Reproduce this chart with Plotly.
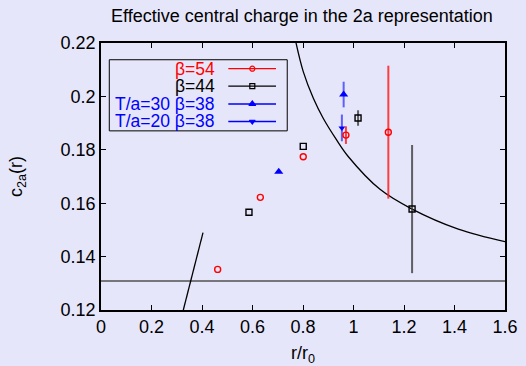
import plotly.graph_objects as go

# ---- data ----
b54_x = [0.462, 0.631, 0.801, 0.970, 1.138]
b54_y = [0.1352, 0.1622, 0.1774, 0.1855, 0.1866]
b54_e = [0.0, 0.0, 0.0, 0.0033, 0.0249]

b44_x = [0.586, 0.801, 1.018, 1.232]
b44_y = [0.1566, 0.1813, 0.1919, 0.1578]
b44_e = [0.0, 0.0, 0.0029, 0.0240]

t30_x = [0.704, 0.961]
t30_y = [0.1718, 0.2007]
t30_e = [0.0, 0.0048]

t20_x = [0.954]
t20_y = [0.1882]
t20_e = [0.0050]

curve_x = [0.772, 0.801, 0.841, 0.880, 0.933, 0.979, 1.105, 1.232, 1.415, 1.6]
curve_y = [0.2202, 0.2093, 0.1993, 0.1918, 0.1837, 0.1775, 0.1652, 0.1578, 0.1503, 0.1456]

seg_x = [0.326, 0.404]
seg_y = [0.12, 0.149]

hline_x = [0.0, 1.6]
hline_y = [0.1309, 0.1309]

x_ticks = [0, 0.2, 0.4, 0.6, 0.8, 1.0, 1.2, 1.4, 1.6]
x_ticktext = ["0", "0.2", "0.4", "0.6", "0.8", "1", "1.2", "1.4", "1.6"]
y_ticks = [0.12, 0.14, 0.16, 0.18, 0.20, 0.22]
y_ticktext = ["0.12", "0.14", "0.16", "0.18", "0.2", "0.22"]

legend_labels = ["β=54", "β=44", "T/a=30 β=38", "T/a=20 β=38"]

FONT = "Liberation Sans, Arial, Helvetica, sans-serif"
FS = 18
BG = "#e6e6fa"

fig = go.Figure()

# reference lines
fig.add_trace(go.Scatter(x=hline_x, y=hline_y, mode="lines",
                         line=dict(color="#505050", width=1.5), showlegend=False, hoverinfo="skip"))
fig.add_trace(go.Scatter(x=seg_x, y=seg_y, mode="lines",
                         line=dict(color="black", width=1.3), showlegend=False, hoverinfo="skip"))
fig.add_trace(go.Scatter(x=curve_x, y=curve_y, mode="lines",
                         line=dict(color="black", width=1.3, shape="spline", smoothing=1.0),
                         showlegend=False, hoverinfo="skip"))

def series(x, y, e, color, ecolor, symbol, size, lw):
    fig.add_trace(go.Scatter(
        x=x, y=y, mode="markers",
        marker=dict(symbol=symbol, size=size, color=color, line=dict(color=color, width=lw)),
        error_y=dict(type="data", array=e, visible=True, width=0, thickness=2, color=ecolor),
        showlegend=False))

series(t30_x, t30_y, t30_e, "#0000ff", "rgba(70,70,255,0.85)", "triangle-up", 8, 0)
series(t20_x, t20_y, t20_e, "#0000ff", "rgba(70,70,255,0.85)", "triangle-down", 6, 0)
series(b54_x, b54_y, b54_e, "#ff0000", "rgba(255,30,30,0.85)", "circle-open", 6, 1.4)
series(b44_x, b44_y, b44_e, "#000000", "rgba(60,60,60,0.8)", "square-open", 6, 1.4)

# ---- manual gnuplot-style legend ----
leg_colors = ["#ff0000", "#000000", "#0000ff", "#0000ff"]
leg_symbols = ["circle-open", "square-open", "triangle-up", "triangle-down"]
leg_sizes = [5, 5, 6, 5]
row_y = [0.9037, 0.8388, 0.7716, 0.706]
for lbl, c, s, sz, yy in zip(legend_labels, leg_colors, leg_symbols, leg_sizes, row_y):
    fig.add_trace(go.Scatter(x=[0.3151, 0.4332], y=[yy, yy], mode="lines",
                             line=dict(color=c, width=1.3), xaxis="x2", yaxis="y2",
                             showlegend=False, hoverinfo="skip"))
    fig.add_trace(go.Scatter(x=[0.3745], y=[yy], mode="markers",
                             marker=dict(symbol=s, size=sz, color=c, line=dict(color=c, width=1.2)),
                             xaxis="x2", yaxis="y2", showlegend=False, hoverinfo="skip"))
    fig.add_annotation(x=0.2864, y=yy, xref="paper", yref="paper", text=lbl, showarrow=False,
                       xanchor="right", yanchor="middle", font=dict(family=FONT, size=17.5, color=c))

fig.add_shape(type="rect", xref="paper", yref="paper", x0=0.0205, x1=0.461, y0=0.6709, y1=0.9373,
              line=dict(color="black", width=1))

axis_common = dict(showline=True, linecolor="black", linewidth=1.5, mirror="allticks",
                   ticks="inside", ticklen=5, tickwidth=1.2, tickcolor="black",
                   showgrid=False, zeroline=False, automargin=False,
                   tickfont=dict(family=FONT, size=FS, color="black"))

fig.update_layout(
    width=526, height=366,
    paper_bgcolor=BG, plot_bgcolor=BG,
    margin=dict(l=101, r=21, t=42.5, b=55.5),
    title=dict(text="Effective central charge in the 2a representation",
               x=0.574, xanchor="center", y=0.958, yanchor="middle",
               font=dict(family=FONT, size=FS, color="black")),
    xaxis=dict(range=[0, 1.6], tickvals=x_ticks, ticktext=x_ticktext,
               title=dict(text="r/r<sub>0</sub>", standoff=13,
                          font=dict(family=FONT, size=FS, color="black")),
               **axis_common),
    yaxis=dict(range=[0.12, 0.22], tickvals=y_ticks, ticktext=y_ticktext,
               title=dict(text="c<sub>2a</sub>(r)", standoff=33,
                          font=dict(family=FONT, size=FS, color="black")),
               **axis_common),
    xaxis2=dict(range=[0, 1], overlaying="x", visible=False, fixedrange=True),
    yaxis2=dict(range=[0, 1], overlaying="y", visible=False, fixedrange=True),
    showlegend=False,
)

fig.write_html("out.html", config={"displayModeBar": False},
               post_script="document.body.style.margin='0px';")
